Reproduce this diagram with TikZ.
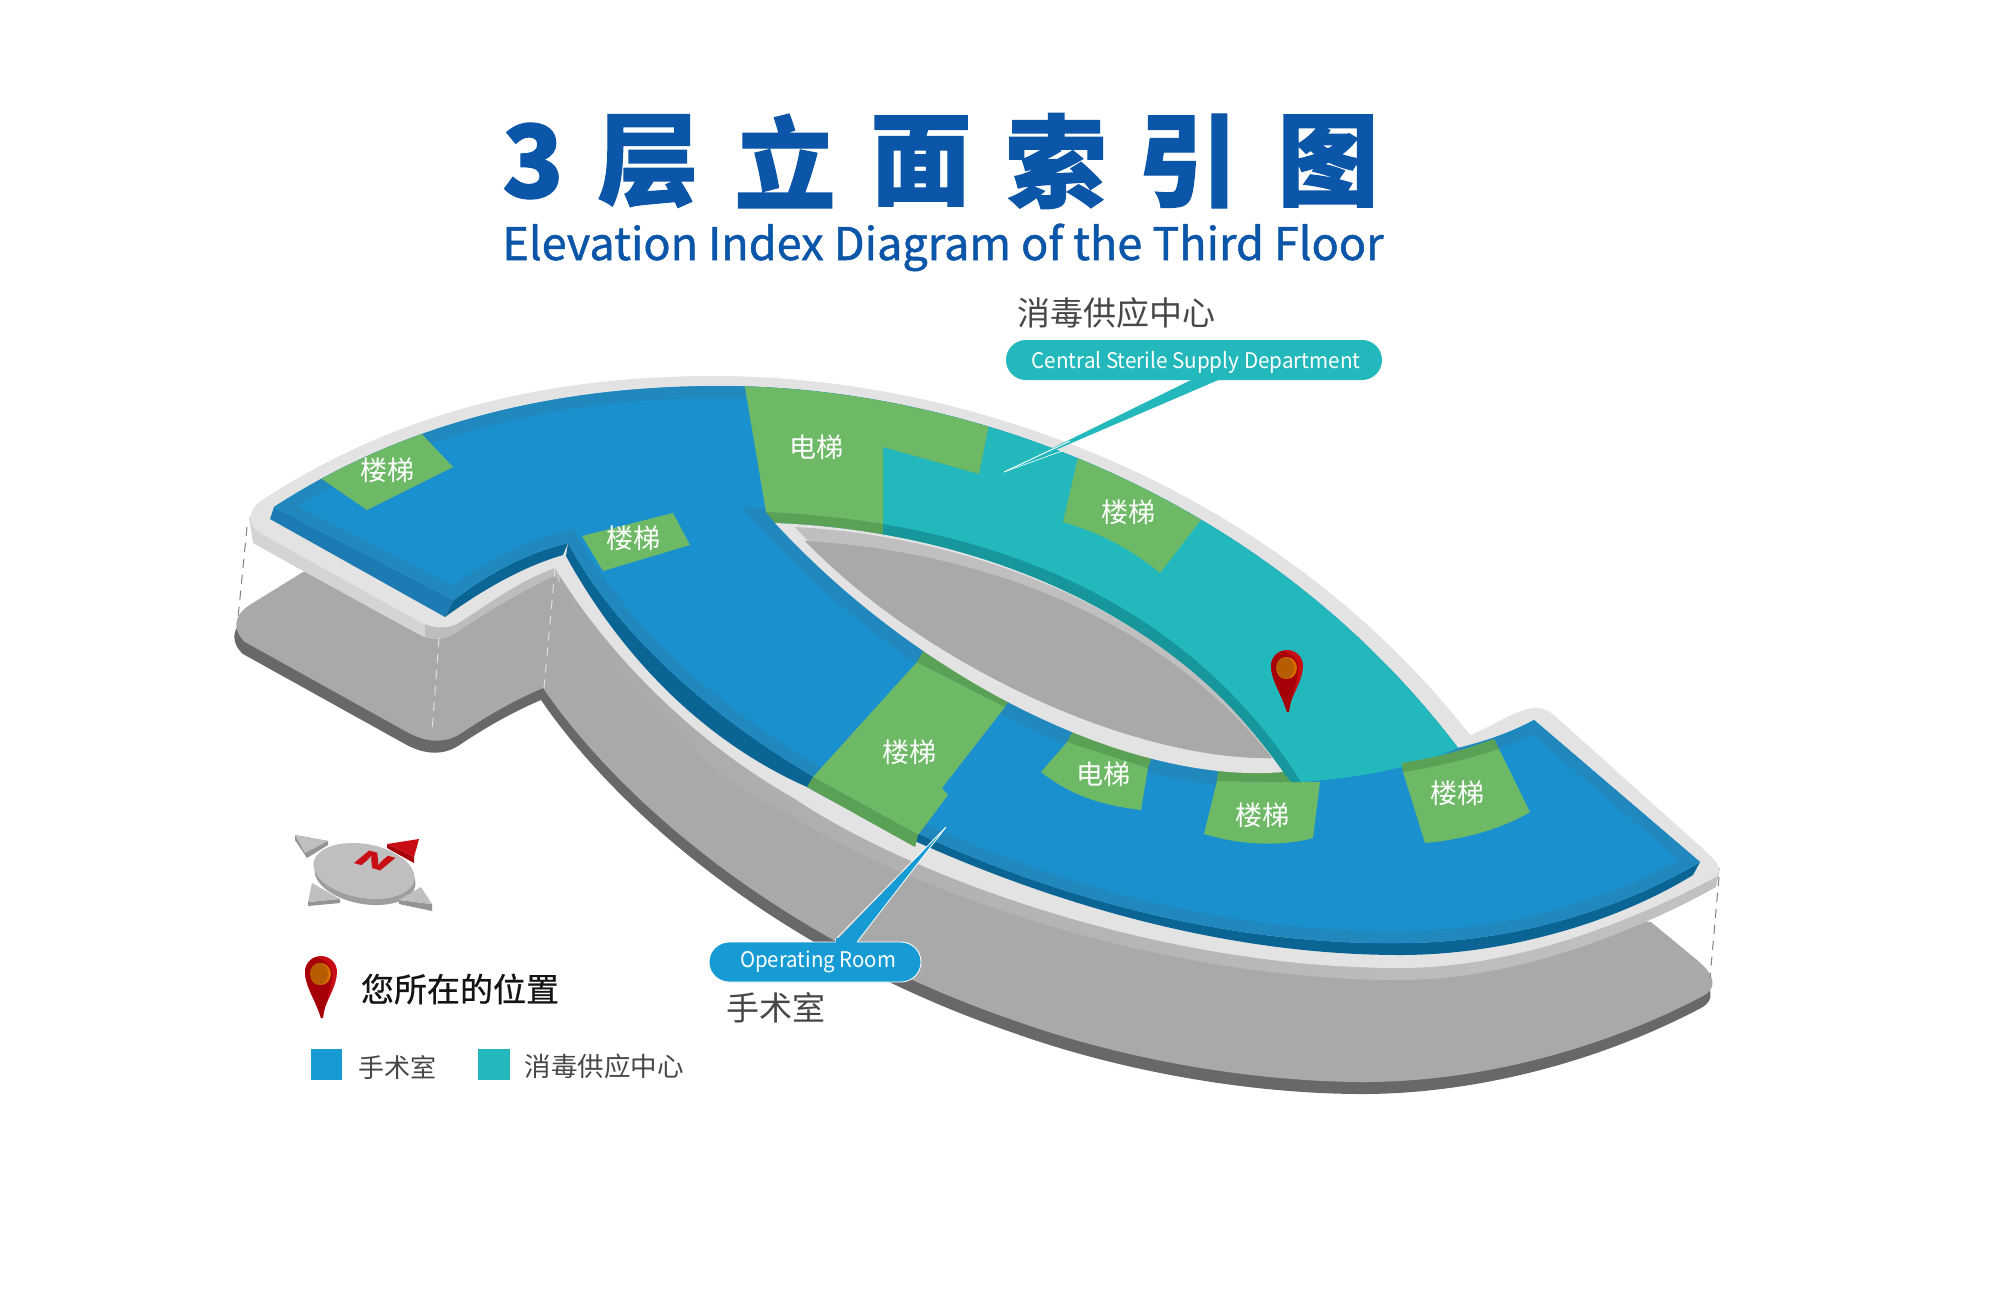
\documentclass[tikz,border=0pt]{standalone}
\usepackage{fontspec}
\setmainfont{Noto Sans CJK SC}
\newfontfamily\titlef[BoldFeatures={FakeBold=1.2}]{Noto Sans CJK SC}
\newfontfamily\medf[FakeBold=0.7]{Noto Sans CJK SC}
\newfontfamily\subf[FakeBold=1.1]{Noto Sans CJK SC}
\definecolor{plate}{HTML}{E3E3E3}
\definecolor{basegray}{HTML}{A9A9A9}
\definecolor{basedark}{HTML}{686868}
\definecolor{blueTop}{HTML}{1A90CF}
\definecolor{blueBand}{HTML}{2188BE}
\definecolor{blueWall}{HTML}{0A6595}
\definecolor{blueWallB}{HTML}{1C7BB2}
\definecolor{tealTop}{HTML}{22B8BC}
\definecolor{tealWall}{HTML}{17969B}
\definecolor{greenTop}{HTML}{6DB966}
\definecolor{greenDark}{HTML}{5AA055}
\definecolor{titleBlue}{HTML}{0B56A8}
\definecolor{pinRed}{HTML}{C80E14}
\definecolor{pinDark}{HTML}{A50008}
\newcommand{\lbl}[1]{\fontsize{#1}{#1}\selectfont}
\newcommand{\baseoutline}{(303,572) -- (248,606) .. controls (234,616) and (232,630) .. (245,642) -- (407,732) .. controls (425,742) and (445,745) .. (463,732) .. controls (490,714) and (515,700) .. (543,688) .. controls (620,800) and (780,940) .. (1013,1020) .. controls (1130,1062) and (1260,1082) .. (1365,1082) .. controls (1460,1082) and (1585,1058) .. (1703,996) .. controls (1718,988) and (1715,975) .. (1697,960) -- (1651,922) -- (1400,900) -- (600,560) -- cycle}
\newcommand{\sideoutline}{(249,517) -- (253,543) -- (305,572) -- (420,635) .. controls (432,641) and (446,641) .. (460,630) .. controls (490,610) and (525,590) .. (555,575) .. controls (600,660) and (690,770) .. (790,815) .. controls (900,885) and (1150,980) .. (1400,980) .. controls (1510,980) and (1630,935) .. (1716,887) -- (1720,868) -- (1400,800) -- (600,500) -- cycle}
\newcommand{\plateoutline}{(258,503) .. controls (390,415) and (540,376) .. (715,376) .. controls (960,376) and (1270,480) .. (1470,735) .. controls (1490,728) and (1510,712) .. (1533,708) .. controls (1541,707) and (1550,711) .. (1556,717) -- (1701,847) .. controls (1716,861) and (1724,868) .. (1716,877) .. controls (1625,925) and (1510,968) .. (1400,968) .. controls (1150,968) and (900,870) .. (797,800) .. controls (690,740) and (605,650) .. (555,568) .. controls (520,580) and (490,603) .. (460,622) .. controls (448,630) and (433,628) .. (422,623) -- (260,533) .. controls (250,526) and (246,515) .. (258,503) -- cycle}
\newcommand{\blueoutline}{(274,507) .. controls (400,425) and (550,386) .. (720,386) .. controls (960,386) and (1262,490) .. (1458,748) .. controls (1483,742) and (1510,733) .. (1534,720) -- (1700,862) .. controls (1620,910) and (1510,943) .. (1400,943) .. controls (1150,946) and (920,845) .. (814,777) .. controls (705,713) and (615,630) .. (568,543) .. controls (530,552) and (490,572) .. (454,600) -- cycle}
\newcommand{\holeoutline}{(775,523) .. controls (950,530) and (1160,595) .. (1283,772) .. controls (1130,785) and (920,680) .. (775,523) -- cycle}
\newcommand{\innerwall}{(766,512) .. controls (945,520) and (1170,575) .. (1301,782) -- (1283,772) .. controls (1160,595) and (950,530) .. (775,523) -- cycle}
\newcommand{\mappin}[2]{\begin{scope}[shift={(#1,#2)}]
 \fill[pinRed] (0,62) .. controls (-5,45) and (-16,30) .. (-16,16) .. controls (-16,6) and (-8,0) .. (0,0) .. controls (8,0) and (16,6) .. (16,16) .. controls (16,30) and (5,45) .. (0,62) -- cycle;
 \fill[pinDark] (0,62) .. controls (-5,45) and (-16,30) .. (-16,16) .. controls (-16,8) and (-10,2) .. (-4,1) .. controls (8,6) and (12,12) .. (11,22) .. controls (10,32) and (4,48) .. (2,62) -- cycle;
 \fill[orange!85!black] (0,18) ellipse (10 and 11);
 \fill[orange!72!black] (-2,18) ellipse (9 and 11);
\end{scope}}
\tikzset{
 greenpatch/.style={fill=greenTop},
 greenband/.style={fill=greenDark},
 roomtext/.style={text=white,inner sep=0pt,font=\lbl{27}},
 darktext/.style={text=black!72,inner sep=0pt},
 dashgray/.style={draw=black!50,line width=1pt,dash pattern=on 9pt off 7pt},
 dashwhite/.style={draw=white!88!black,line width=1pt,dash pattern=on 9pt off 7pt},
 titlechar/.style={text=titleBlue,inner sep=0pt,font=\titlef\bfseries\lbl{101}},
 arrowtop/.style={fill=black!25},
 arrowside/.style={fill=black!42},
}
\begin{document}
\begin{tikzpicture}[x=1pt,y=-1pt]
\useasboundingbox (0,0) rectangle (2000,1291);
\fill[white] (0,0) rectangle (2000,1291);
% base
\fill[basedark,shift={(-2,12)}] \baseoutline;
\fill[basegray] \baseoutline;
% plate side
\begin{scope}\clip (0,0) rectangle (425,1291);\fill[black!17] \sideoutline;\end{scope}
\begin{scope}\clip (425,0) rectangle (560,1291);\fill[black!26] \sideoutline;\end{scope}
\begin{scope}\clip (560,0) rectangle (2000,1291);\shade[left color=black!36,right color=black!24] \sideoutline;\end{scope}
\fill[plate] \plateoutline;
% walls of the top layer
\fill[blueWallB] (274,507) -- (270,519) -- (445,617) -- (454,600) -- cycle;
\fill[blueWall] (454,600) .. controls (490,572) and (530,552) .. (568,543) -- (563,555) .. controls (525,566) and (485,588) .. (445,617) -- cycle;
\fill[blueWall] (568,543) .. controls (615,630) and (705,713) .. (814,777) .. controls (920,845) and (1150,946) .. (1400,943) .. controls (1510,943) and (1620,910) .. (1700,862) -- (1693,875) .. controls (1620,920) and (1510,955) .. (1400,955) .. controls (1150,955) and (920,850) .. (807,787) .. controls (690,735) and (612,640) .. (566,556) -- cycle;
% blue floor
\fill[blueTop] \blueoutline;
\begin{scope}
 \clip \blueoutline;
 \draw[blueBand,line width=24pt] \blueoutline;
 \draw[blueBand,line width=28pt] \holeoutline;
 % teal floor
 \fill[tealTop] (883,447) -- (979,474) -- (998,380) -- (1500,600) -- (1480,739) -- (1458,748) .. controls (1410,768) and (1360,778) .. (1301,782) -- (883,532) -- cycle;
 % green patches on the outer edge
 \fill[greenpatch] (742,370) -- (998,380) -- (979,474) -- (883,447) -- (883,524) -- (766,512) -- cycle;
 \fill[greenpatch] (300,464) -- (400,411) -- (453,467) -- (367,510) -- cycle;
 \fill[greenpatch] (1085,427) -- (1230,482) -- (1160,573) .. controls (1130,548) and (1100,533) .. (1063,522) -- cycle;
 \fill[greenpatch] (582,536) -- (673,513) -- (690,545) -- (603,571) -- cycle;
 \fill[greenpatch] (1403,772) -- (1402,763) .. controls (1435,758) and (1465,750) .. (1494,739) -- (1530,812) .. controls (1500,830) and (1460,840) .. (1425,843) -- cycle;
 \fill[greenband] (1402,763) .. controls (1435,758) and (1465,750) .. (1494,739) -- (1499,749) .. controls (1465,760) and (1435,767) .. (1403,772) -- cycle;
\end{scope}
\fill[greenpatch] (917,662) -- (1005,707) -- (942,788) -- (948,795) -- (918,835) -- (813,777) -- cycle;
\fill[greenband] (925,648) -- (1012,695) -- (1005,707) -- (917,662) -- cycle;
\fill[greenband] (813,777) -- (918,835) -- (915,847) -- (807,787) -- cycle;
\fill[greenpatch] (1068,741) -- (1148,768) -- (1141,810) .. controls (1100,805) and (1070,795) .. (1041,772) -- cycle;
\fill[greenband] (1076,725) -- (1154,750) -- (1148,768) -- (1067,742) -- cycle;
\fill[greenpatch] (1217,781) -- (1320,782) -- (1313,838) .. controls (1280,847) and (1240,845) .. (1204,834) -- cycle;
\fill[greenband] (1219,762) -- (1285,765) -- (1296,782) -- (1217,781) -- cycle;
% walls around the opening
\begin{scope}\clip (700,450) rectangle (883,600);\fill[greenband] \innerwall;\end{scope}
\begin{scope}\clip (883,450) rectangle (1400,800);\fill[tealWall] \innerwall;\fill[tealWall] (1283,772) -- (1301,782) -- (1291,782) -- cycle;\end{scope}
% opening
\fill[plate] \holeoutline;
\fill[black!25] (795,527) .. controls (950,535) and (1160,598) .. (1272,758) .. controls (1130,760) and (920,665) .. (795,527) -- cycle;
\fill[basegray] (805,541) .. controls (960,550) and (1150,605) .. (1272,758) .. controls (1130,760) and (925,665) .. (805,541) -- cycle;
% dashes
\draw[dashgray] (247,527) -- (238,618);
\draw[dashgray] (1719,877) -- (1710,978);
\draw[dashwhite] (439,638) -- (432,732);
\draw[dashwhite] (555,568) -- (544,688);
% room labels
\node[roomtext] (s1) at (387,470) {楼梯};
\node[roomtext] (s2) at (633,538) {楼梯};
\node[roomtext] (e1) at (816,447) {电梯};
\node[roomtext] (s3) at (1128,512) {楼梯};
\node[roomtext] (s4) at (909,752) {楼梯};
\node[roomtext] (e2) at (1103,774) {电梯};
\node[roomtext] (s5) at (1262,815) {楼梯};
\node[roomtext] (s6) at (1457,793) {楼梯};
\mappin{1287}{650}
% callouts
\fill[tealTop] (1191,380) -- (1004,472) -- (1223,378) -- cycle;
\draw[white,line width=0.9pt] (1004,472) -- (1070,441);
\draw[white,line width=0.6pt] (1004,472) -- (1062,451);
\fill[tealTop,rounded corners=20pt] (1006,340) rectangle (1382,380);
\node[text=white,inner sep=0pt,font=\lbl{21.5},xscale=0.96] (cssd) at (1196,362) {Central Sterile Supply Department};
\node[darktext,font=\lbl{33}] (cssdzh) at (1116,313) {消毒供应中心};
\fill[blueTop!90!cyan] (835,942) -- (946,827) -- (857,942) -- cycle;
\draw[white,line width=0.8pt] (835,940) -- (946,827) -- (857,942);
\draw[white,line width=0.9pt,fill=blueTop!90!cyan,rounded corners=20pt] (709,942) rectangle (921,982);
\fill[blueTop!90!cyan] (836,938) -- (857,938) -- (857,946) -- (836,946) -- cycle;
\node[text=white,inner sep=0pt,font=\lbl{21.5},xscale=0.95] (orroom) at (818,962) {Operating Room};
\node[darktext,font=\lbl{33}] (orzh) at (776,1008) {手术室};
% title
\node[titlechar] (t0) at (533,161) {3};
\node[titlechar] (t1) at (648,161) {层};
\node[titlechar] (t2) at (785,161) {立};
\node[titlechar] (t3) at (921,161) {面};
\node[titlechar] (t4) at (1056,161) {索};
\node[titlechar] (t5) at (1188,161) {引};
\node[titlechar] (t6) at (1328,161) {图};
\node[text=titleBlue,inner sep=0pt,anchor=base,font=\subf\lbl{45}] (sub) at (943,260) {Elevation Index Diagram of the Third Floor};
% compass
\fill[black!38,shift={(365,877)},rotate=-10] (0,0) ellipse (51 and 27);
\fill[black!25,shift={(364,871)},rotate=-10] (0,0) ellipse (51 and 27);
\begin{scope}[shift={(375,861)},cm={1.79,-0.5,0.82,0.68,(0,0)},transform shape]
\node[text=pinRed,inner sep=0pt,font=\bfseries\lbl{25}] (north) at (0,0) {N};
\end{scope}
\fill[arrowside] (295,835) -- (295,840) -- (307,858) -- (328,845) -- (328,841) -- cycle;
\fill[arrowtop] (295,835) -- (328,841) -- (305,853) -- cycle;
\fill[pinDark] (387,844) -- (387,848) -- (414,863) -- (414,857) -- cycle;
\fill[pinRed] (387,844) -- (419,839) -- (414,857) -- cycle;
\fill[arrowside] (308,902) -- (308,906) -- (340,903) -- (340,899) -- cycle;
\fill[arrowtop] (312,883) -- (340,899) -- (308,902) -- cycle;
\fill[arrowside] (399,900) -- (399,904) -- (432,911) -- (432,904) -- cycle;
\fill[arrowtop] (421,887) -- (432,904) -- (399,900) -- cycle;
% legend
\mappin{321}{956}
\node[text=black!92,inner sep=0pt,font=\medf\lbl{33}] (here) at (460,989) {您所在的位置};
\fill[blueTop!90!cyan] (311,1049) rectangle (342,1080);
\fill[tealTop] (478,1049) rectangle (510,1080);
\node[darktext,font=\lbl{26}] (lg1) at (397,1067) {手术室};
\node[darktext,font=\lbl{26.5}] (lg2) at (604,1066) {消毒供应中心};
\end{tikzpicture}
\end{document}
